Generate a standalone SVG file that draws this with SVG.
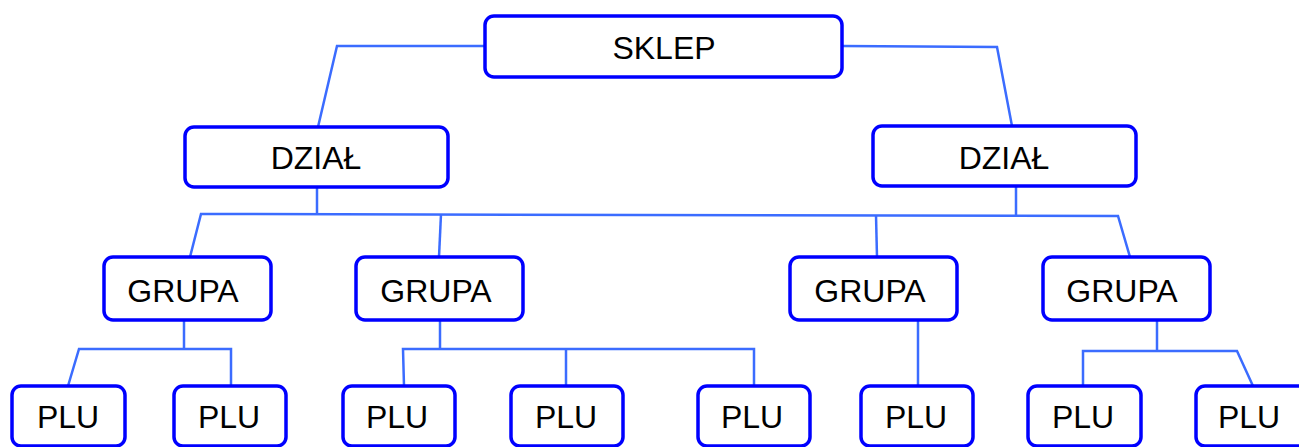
<svg xmlns="http://www.w3.org/2000/svg" width="1299" height="447" viewBox="0 0 1299 447">
<style>
.box{fill:#ffffff;stroke:#0000ff;stroke-width:3.5}
.lbl{font-family:"Liberation Sans",Arial,sans-serif;font-size:32px;fill:#000000;text-anchor:middle}
.con{fill:none;stroke:#3b6cff;stroke-width:2.5;stroke-linejoin:miter}
</style>
<rect width="1299" height="447" fill="#ffffff"/>
<g id="connectors">
<polyline class="con" points="485,46 337,46 318,127"/>
<polyline class="con" points="842,46 997,47 1012,126"/>
<line class="con" x1="317" y1="188" x2="317" y2="214"/>
<line class="con" x1="1016" y1="187" x2="1016" y2="215"/>
<polyline class="con" points="190,257 201,214 1118,216 1130,257"/>
<line class="con" x1="441" y1="214" x2="439" y2="257"/>
<line class="con" x1="876" y1="215" x2="877" y2="257"/>
<line class="con" x1="184" y1="320" x2="184" y2="349"/>
<polyline class="con" points="68,386 79,349 231,349 231,386"/>
<line class="con" x1="440" y1="320" x2="440" y2="349"/>
<polyline class="con" points="404,386 403,349 754,349 754,386"/>
<line class="con" x1="566" y1="349" x2="566" y2="386"/>
<line class="con" x1="918" y1="320" x2="918" y2="386"/>
<line class="con" x1="1157" y1="320" x2="1157" y2="351"/>
<polyline class="con" points="1083,386 1083,351 1237,351 1253,386"/>
</g>
<g id="sklep"><rect class="box" x="485" y="16" width="357" height="61" rx="9"/><text class="lbl" x="664" y="59">SKLEP</text></g>
<g id="dzial1"><rect class="box" x="185" y="127" width="263" height="60" rx="9"/><text class="lbl" x="316" y="169">DZIAŁ</text></g>
<g id="dzial2"><rect class="box" x="873" y="126" width="263" height="60" rx="9"/><text class="lbl" x="1004" y="169">DZIAŁ</text></g>
<g id="grupa1"><rect class="box" x="104" y="257" width="167" height="63" rx="9"/><text class="lbl" x="183" y="302">GRUPA</text></g>
<g id="grupa2"><rect class="box" x="356" y="257" width="167" height="63" rx="9"/><text class="lbl" x="436" y="302">GRUPA</text></g>
<g id="grupa3"><rect class="box" x="790" y="257" width="167" height="63" rx="9"/><text class="lbl" x="870" y="302">GRUPA</text></g>
<g id="grupa4"><rect class="box" x="1043" y="257" width="167" height="63" rx="9"/><text class="lbl" x="1122" y="302">GRUPA</text></g>
<g id="plu1"><rect class="box" x="12" y="386" width="113" height="60" rx="9"/><text class="lbl" x="68" y="428">PLU</text></g>
<g id="plu2"><rect class="box" x="174" y="386" width="112" height="60" rx="9"/><text class="lbl" x="229" y="428">PLU</text></g>
<g id="plu3"><rect class="box" x="343" y="386" width="112" height="60" rx="9"/><text class="lbl" x="397" y="428">PLU</text></g>
<g id="plu4"><rect class="box" x="511" y="386" width="112" height="60" rx="9"/><text class="lbl" x="566" y="428">PLU</text></g>
<g id="plu5"><rect class="box" x="698" y="386" width="112" height="60" rx="9"/><text class="lbl" x="752" y="428">PLU</text></g>
<g id="plu6"><rect class="box" x="861" y="386" width="112" height="60" rx="9"/><text class="lbl" x="916" y="428">PLU</text></g>
<g id="plu7"><rect class="box" x="1028" y="386" width="113" height="60" rx="9"/><text class="lbl" x="1083" y="428">PLU</text></g>
<g id="plu8"><rect class="box" x="1196" y="386" width="113" height="60" rx="9"/><text class="lbl" x="1249" y="428">PLU</text></g>
</svg>
